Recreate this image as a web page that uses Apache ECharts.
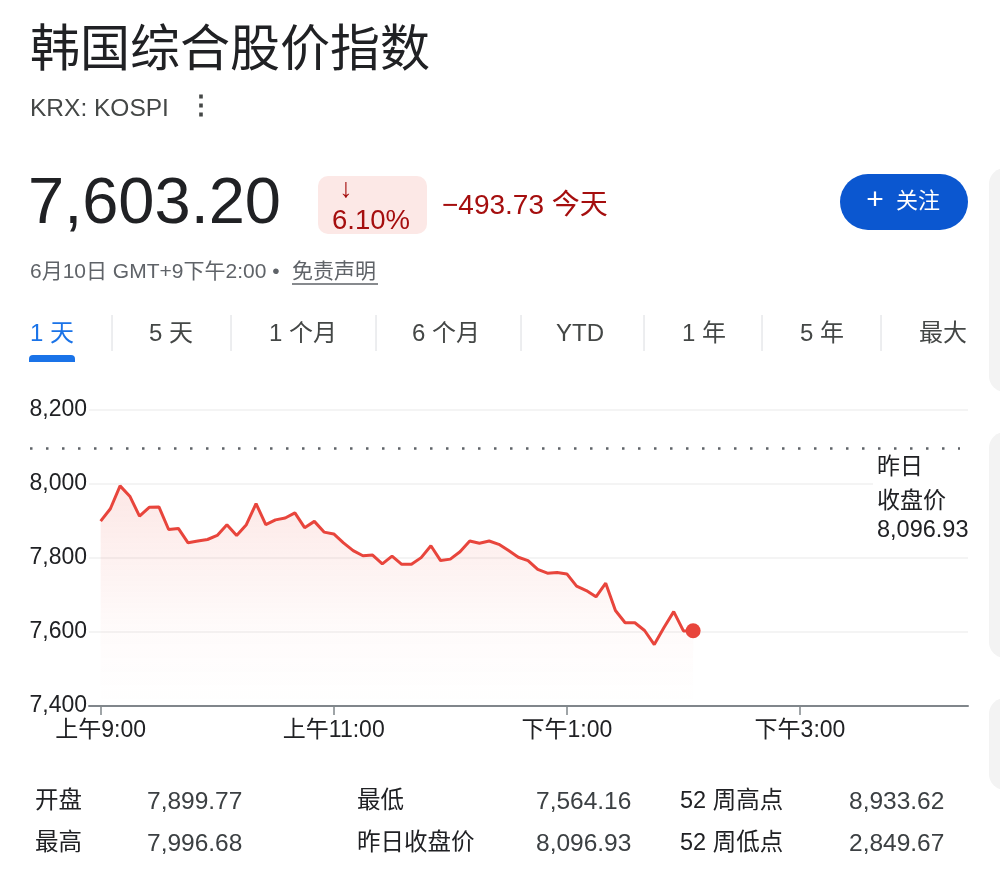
<!DOCTYPE html>
<html>
<head>
<meta charset="utf-8">
<script src="https://cdn.jsdelivr.net/npm/echarts@6/dist/echarts.min.js"></script>
<style>
  html, body { margin: 0; padding: 0; background: #fff; }
  #chart { width: 1000px; height: 896px; }
</style>
</head>
<body>
<div id="chart"></div>
<script>
// 5-minute intraday points, KOSPI 6月10日
const times = [
  '09:00','09:05','09:10','09:15','09:20','09:25','09:30','09:35','09:40','09:45',
  '09:50','09:55','10:00','10:05','10:10','10:15','10:20','10:25','10:30','10:35',
  '10:40','10:45','10:50','10:55','11:00','11:05','11:10','11:15','11:20','11:25',
  '11:30','11:35','11:40','11:45','11:50','11:55','12:00','12:05','12:10','12:15',
  '12:20','12:25','12:30','12:35','12:40','12:45','12:50','12:55','13:00','13:05',
  '13:10','13:15','13:20','13:25','13:30','13:35','13:40','13:45','13:50','13:55',
  '14:00','14:05'
];
const prices = [
  7899.77, 7933, 7995, 7967, 7913, 7937, 7938, 7877, 7880, 7841,
  7846, 7850, 7861, 7890, 7861, 7890, 7947, 7890, 7903, 7908,
  7922, 7882, 7899, 7870, 7865, 7841, 7820, 7806, 7808, 7784,
  7805, 7783, 7783, 7801, 7833, 7793, 7797, 7817, 7846, 7840,
  7846, 7837, 7820, 7802, 7793, 7769, 7759, 7761, 7757, 7724,
  7712, 7695, 7732, 7658, 7625, 7625, 7604, 7566, 7612, 7655,
  7603, 7603.2
];
const prevClose = 8096.93;
const yTicks = [7400, 7600, 7800, 8000, 8200];
const xTickTimes = ['09:00', '11:00', '13:00', '15:00'];
const xTickLabels = ['上午9:00', '上午11:00', '下午1:00', '下午3:00'];
const tabs = ['1 天', '5 天', '1 个月', '6 个月', 'YTD', '1 年', '5 年', '最大'];
const statLabels = ['开盘', '最高', '最低', '昨日收盘价', '52 周高点', '52 周低点'];
const statValues = ['7,899.77', '7,996.68', '7,564.16', '8,096.93', '8,933.62', '2,849.67'];

const FONT = "'Liberation Sans','Noto Sans CJK SC',sans-serif";
const RED = '#e8453c';

const toMin = (t) => {
  const [h, m] = t.split(':').map(Number);
  return (h - 9) * 60 + m;
};
const fmt = (v) => v.toLocaleString('en-US');

const txt = (x, y, text, size, color, align, weight) => ({
  type: 'text', x: x, y: y, z: 100,
  style: {
    text: text, font: (weight || 'normal') + ' ' + size + 'px ' + FONT, fill: color,
    align: align || 'left', textAlign: align || 'left',
    verticalAlign: 'middle', textVerticalAlign: 'middle'
  }
});

const graphics = [];
// side cards peeking in at the right edge
[[168, 392], [432, 658], [698, 790]].forEach(([a, b]) => {
  graphics.push({ type: 'rect', z: 1, shape: { x: 989, y: a, width: 40, height: b - a, r: 16 }, style: { fill: '#f3f3f3' } });
});
graphics.push(txt(30, 52, '韩国综合股价指数', 50, '#202124'));
graphics.push(txt(30, 109, 'KRX: KOSPI', 24.5, '#444746'));
graphics.push(txt(201, 107, '⋮', 26, '#444746', 'center', 'bold'));
graphics.push(txt(28, 205, '7,603.20', 65, '#202124'));
graphics.push({ type: 'rect', z: 90, shape: { x: 318, y: 176, width: 109, height: 58, r: 10 }, style: { fill: '#fce8e6' } });
graphics.push(txt(346, 190, '↓', 27, '#a50e0e', 'center'));
graphics.push(txt(332, 221, '6.10%', 27.5, '#a50e0e'));
graphics.push(txt(442, 206, '−493.73 今天', 28, '#a50e0e'));
graphics.push({ type: 'rect', z: 90, shape: { x: 840, y: 174, width: 128, height: 56, r: 28 }, style: { fill: '#0b57d0' } });
graphics.push(txt(875, 201, '+', 30, '#ffffff', 'center'));
graphics.push(txt(896, 202, '关注', 22, '#ffffff'));
graphics.push(txt(30, 272, '6月10日 GMT+9下午2:00 •', 21, '#5f6368'));
graphics.push(txt(292, 272, '免责声明', 21, '#5f6368'));
graphics.push({ type: 'line', z: 100, shape: { x1: 292, y1: 284, x2: 378, y2: 284 }, style: { stroke: '#5f6368', lineWidth: 1.5 } });

// tabs
const tabCenters = [52, 171, 303, 446, 580, 704, 822, 943];
const tabSeps = [112, 231, 376, 521, 644, 762, 881];
tabs.forEach((t, i) => {
  graphics.push(txt(tabCenters[i], 334, t, 24, i === 0 ? '#1a73e8' : '#444746', 'center'));
});
tabSeps.forEach((x) => {
  graphics.push({ type: 'line', z: 100, shape: { x1: x, y1: 315, x2: x, y2: 351 }, style: { stroke: '#dadce0', lineWidth: 1 } });
});
graphics.push({ type: 'rect', z: 100, shape: { x: 29, y: 355, width: 46, height: 7, r: [4, 4, 0, 0] }, style: { fill: '#1a73e8' } });

// previous close label
graphics.push({ type: 'rect', z: 100, shape: { x: 873, y: 454, width: 96, height: 92 }, style: { fill: '#ffffff' } });
graphics.push(txt(877, 468, '昨日', 23, '#202124'));
graphics.push(txt(877, 502, '收盘价', 23, '#202124'));
graphics.push(txt(877, 531, fmt(prevClose), 23.5, '#202124'));

// stats
const statColsLabel = [35, 357, 680];
const statColsValue = [147, 536, 849];
const statRows = [802, 844];
statLabels.forEach((l, i) => {
  const c = Math.floor(i / 2), r = i % 2;
  graphics.push(txt(statColsLabel[c], statRows[r], l, 23.5, '#202124'));
  graphics.push(txt(statColsValue[c], statRows[r], statValues[i], 24.5, '#3c4043'));
});

const lineData = times.map((t, i) => [toMin(t), prices[i]]);
const tickMins = xTickTimes.map(toMin);

const option = {
  animation: false,
  graphic: graphics,
  grid: [
    { left: 89, right: 32, top: 410, bottom: 190 },
    { left: 30, right: 40, top: 410, bottom: 190 }
  ],
  xAxis: [
    {
      type: 'value', gridIndex: 0, min: -6, max: 446.5,
      splitLine: { show: false },
      axisLine: { show: true, lineStyle: { color: '#80868b', width: 2 } },
      axisTick: { show: true, customValues: tickMins, length: 9, lineStyle: { color: '#80868b', width: 1.5 } },
      axisLabel: {
        customValues: tickMins, margin: 13,
        fontSize: 23, color: '#202124', fontFamily: FONT,
        formatter: (v) => xTickLabels[tickMins.indexOf(v)] || ''
      }
    },
    { type: 'value', gridIndex: 1, min: 0, max: 1, show: false }
  ],
  yAxis: [
    {
      type: 'value', gridIndex: 0, min: yTicks[0], max: yTicks[yTicks.length - 1], interval: 200,
      axisLine: { show: false }, axisTick: { show: false },
      splitLine: { lineStyle: { color: '#f4f4f4', width: 2 } },
      axisLabel: { margin: 2, fontSize: 23, color: '#202124', fontFamily: FONT, formatter: (v) => fmt(v) }
    },
    { type: 'value', gridIndex: 1, min: yTicks[0], max: yTicks[yTicks.length - 1], show: false }
  ],
  series: [
    {
      type: 'line', xAxisIndex: 0, yAxisIndex: 0,
      data: lineData, symbol: 'none', z: 5,
      lineStyle: { color: RED, width: 3 },
      areaStyle: {
        origin: 'start',
        color: new echarts.graphic.LinearGradient(0, 0, 0, 1, [
          { offset: 0, color: 'rgba(234,67,53,0.18)' },
          { offset: 0.65, color: 'rgba(234,67,53,0.03)' },
          { offset: 1, color: 'rgba(234,67,53,0)' }
        ])
      }
    },
    {
      type: 'scatter', xAxisIndex: 0, yAxisIndex: 0, z: 6,
      data: [lineData[lineData.length - 1]],
      symbolSize: 15, itemStyle: { color: RED, opacity: 1 }
    },
    {
      type: 'line', xAxisIndex: 1, yAxisIndex: 1, data: [], z: 3,
      markLine: {
        silent: true, symbol: ['none', 'none'],
        lineStyle: { type: [2.5, 13.5], color: '#5f6368', width: 2.5 },
        label: { show: false },
        data: [{ yAxis: prevClose }]
      }
    }
  ]
};

const myChart = echarts.init(document.getElementById('chart'));
myChart.setOption(option);
</script>
</body>
</html>
